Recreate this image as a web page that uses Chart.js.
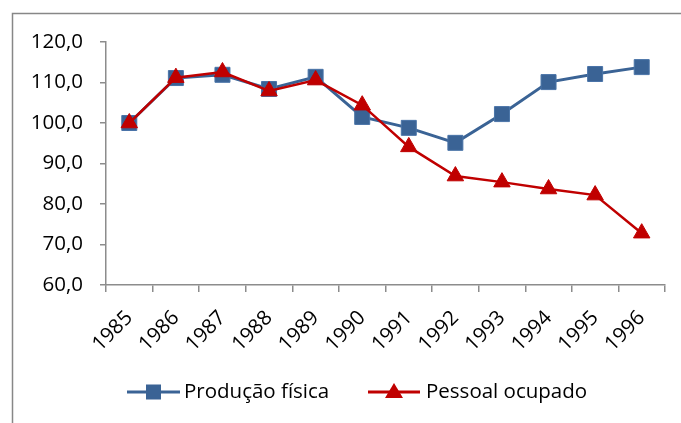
<!DOCTYPE html>
<html>
<head>
<meta charset="utf-8">
<script src="https://cdn.jsdelivr.net/npm/chart.js@4.4.1/dist/chart.umd.min.js"></script>
<style>
html,body{margin:0;padding:0;background:#fff;}
#wrap{position:relative;width:681px;height:423px;}
</style>
</head>
<body>
<div id="wrap"><canvas id="c" width="681" height="423"></canvas></div>
<script>
const years = ['1985','1986','1987','1988','1989','1990','1991','1992','1993','1994','1995','1996'];
const producaoFisica = [100.0, 111.1, 111.9, 108.4, 111.4, 101.5, 98.8, 95.1, 102.2, 110.1, 112.1, 113.8];
const pessoalOcupado = [100.0, 111.2, 112.6, 107.9, 110.6, 104.4, 94.1, 86.9, 85.4, 83.7, 82.2, 72.8];
const seriesNames = ['Produção física', 'Pessoal ocupado'];
const yTicks = [60, 70, 80, 90, 100, 110, 120];

const BLUE = '#3A6395';
const RED = '#C00000';
const AXIS = '#8C8C8C';
const FONT = '"Open Sans", sans-serif';
const FS = 20.5;

const framePlugin = {
  id: 'frame',
  beforeDraw(chart) {
    const ctx = chart.ctx;
    ctx.save();
    ctx.strokeStyle = '#878787';
    ctx.lineWidth = 1.5;
    ctx.strokeRect(12.5, 13.5, 800, 600);
    ctx.restore();
  },
  afterDraw(chart) {
    const ctx = chart.ctx;
    ctx.save();
    const y = 392;
    ctx.strokeStyle = BLUE; ctx.lineWidth = 3;
    ctx.beginPath(); ctx.moveTo(127, y); ctx.lineTo(180, y); ctx.stroke();
    ctx.fillStyle = BLUE;
    ctx.fillRect(146, y - 7.5, 15, 15);
    ctx.fillStyle = '#000';
    ctx.font = FS + 'px ' + FONT;
    ctx.textBaseline = 'middle';
    ctx.textAlign = 'left';
    ctx.fillText(seriesNames[0], 184, y);
    ctx.strokeStyle = RED; ctx.lineWidth = 3;
    ctx.beginPath(); ctx.moveTo(368, y); ctx.lineTo(420, y); ctx.stroke();
    ctx.fillStyle = RED;
    ctx.beginPath(); ctx.moveTo(394, y - 9); ctx.lineTo(403, y + 6); ctx.lineTo(385, y + 6); ctx.closePath(); ctx.fill();
    ctx.fillStyle = '#000';
    ctx.fillText(seriesNames[1], 426, y);
    ctx.restore();
  }
};

new Chart(document.getElementById('c'), {
  type: 'line',
  data: {
    labels: years,
    datasets: [
      {
        label: seriesNames[0],
        data: producaoFisica,
        order: 1,
        borderColor: BLUE,
        backgroundColor: BLUE,
        borderWidth: 3,
        pointStyle: 'rect',
        pointRadius: 10.6,
        pointBorderWidth: 1,
        pointBorderColor: '#4A74A8',
        tension: 0
      },
      {
        label: seriesNames[1],
        data: pessoalOcupado,
        order: 0,
        borderColor: RED,
        backgroundColor: RED,
        borderWidth: 2.5,
        pointStyle: 'triangle',
        pointRadius: 9.5,
        pointBorderWidth: 1,
        tension: 0
      }
    ]
  },
  options: {
    responsive: false,
    animation: false,
    layout: { padding: { left: 0, right: 16, top: 42, bottom: 0 } },
    plugins: { legend: { display: false }, tooltip: { enabled: false } },
    scales: {
      x: {
        offset: true,
        grid: { display: true, drawOnChartArea: false, offset: true, color: AXIS, tickLength: 7, lineWidth: 1.5 },
        border: { color: AXIS, width: 1.5 },
        ticks: { color: '#000', font: { family: FONT, size: FS }, minRotation: 45, maxRotation: 45, padding: 14 },
        afterFit(s) { s.height = 138; }
      },
      y: {
        min: 60, max: 120,
        afterBuildTicks(s) { s.ticks = yTicks.map(v => ({ value: v })); },
        grid: { display: true, drawOnChartArea: false, color: AXIS, tickLength: 6, lineWidth: 1.5 },
        border: { color: AXIS, width: 1.5 },
        ticks: {
          color: '#000', font: { family: FONT, size: FS }, padding: 17,
          callback: v => v.toFixed(1).replace('.', ',')
        },
        afterFit(s) { s.width = 106; }
      }
    }
  },
  plugins: [framePlugin]
});
</script>
</body>
</html>
